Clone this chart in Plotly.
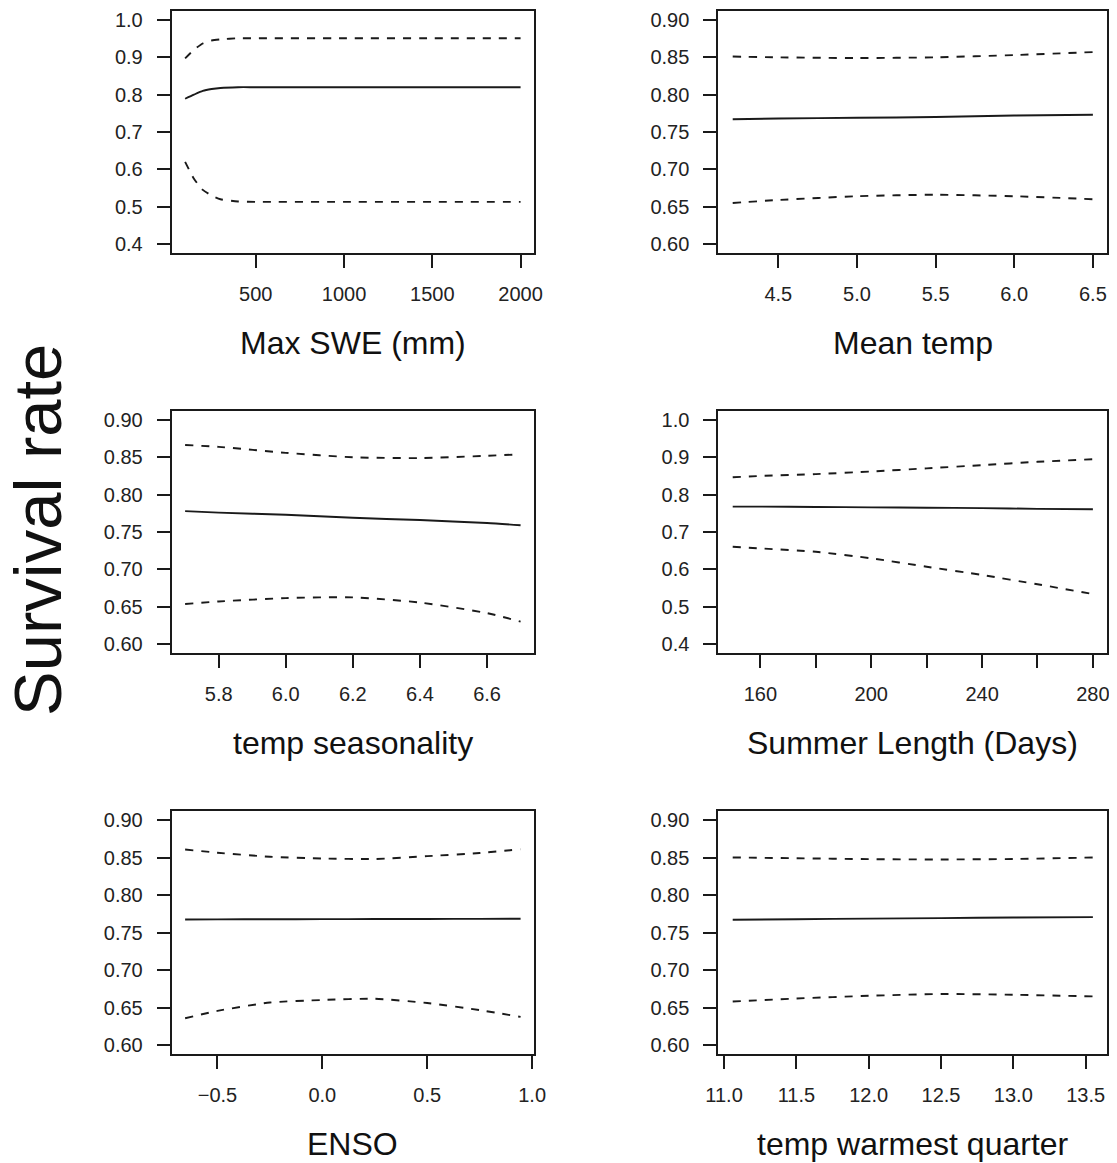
import plotly.graph_objects as go

# ---------------- data ----------------
swe_x = [100, 150, 200, 250, 300, 400, 500, 1000, 1500, 2000]
swe_fit = [0.789, 0.800, 0.810, 0.815, 0.818, 0.820, 0.820, 0.820, 0.820, 0.820]
swe_up = [0.897, 0.920, 0.937, 0.945, 0.948, 0.951, 0.951, 0.951, 0.951, 0.951]
swe_lo = [0.620, 0.575, 0.545, 0.530, 0.520, 0.514, 0.513, 0.513, 0.513, 0.513]

mt_x = [4.21, 4.5, 5.0, 5.5, 6.0, 6.5]
mt_fit = [0.767, 0.768, 0.769, 0.770, 0.772, 0.773]
mt_up = [0.851, 0.850, 0.849, 0.850, 0.853, 0.857]
mt_lo = [0.655, 0.659, 0.664, 0.666, 0.664, 0.660]

ts_x = [5.70, 5.8, 6.0, 6.2, 6.4, 6.6, 6.70]
ts_fit = [0.778, 0.776, 0.773, 0.769, 0.766, 0.762, 0.759]
ts_up = [0.8665, 0.864, 0.856, 0.850, 0.849, 0.852, 0.854]
ts_lo = [0.6536, 0.657, 0.6615, 0.6625, 0.6556, 0.6414, 0.630]

sl_x = [150, 160, 180, 200, 220, 240, 260, 280]
sl_fit = [0.768, 0.768, 0.767, 0.766, 0.765, 0.764, 0.762, 0.761]
sl_up = [0.8465, 0.850, 0.855, 0.862, 0.8705, 0.879, 0.888, 0.8947]
sl_lo = [0.6606, 0.656, 0.647, 0.6295, 0.607, 0.585, 0.560, 0.534]

en_x = [-0.654, -0.5, -0.25, 0.0, 0.25, 0.5, 0.75, 0.945]
en_fit = [0.7674, 0.7675, 0.7677, 0.7678, 0.7680, 0.7681, 0.7682, 0.7683]
en_up = [0.8607, 0.8564, 0.851, 0.8487, 0.848, 0.8518, 0.856, 0.861]
en_lo = [0.6357, 0.6455, 0.6566, 0.660, 0.6616, 0.656, 0.6465, 0.6375]

tw_x = [11.06, 11.5, 12.0, 12.5, 13.0, 13.55]
tw_fit = [0.767, 0.7677, 0.7685, 0.7692, 0.770, 0.7705]
tw_up = [0.8501, 0.849, 0.8478, 0.8474, 0.848, 0.850]
tw_lo = [0.658, 0.662, 0.6656, 0.668, 0.667, 0.6648]

x_titles = ["Max SWE (mm)", "Mean temp", "temp seasonality",
            "Summer Length (Days)", "ENSO", "temp warmest quarter"]
x_tickvals = [[500, 1000, 1500, 2000],
              [4.5, 5.0, 5.5, 6.0, 6.5],
              [5.8, 6.0, 6.2, 6.4, 6.6],
              [160, 180, 200, 220, 240, 260, 280],
              [-0.5, 0.0, 0.5, 1.0],
              [11.0, 11.5, 12.0, 12.5, 13.0, 13.5]]
x_ticktext = [["500", "1000", "1500", "2000"],
              ["4.5", "5.0", "5.5", "6.0", "6.5"],
              ["5.8", "6.0", "6.2", "6.4", "6.6"],
              ["160", "", "200", "", "240", "", "280"],
              ["\u22120.5", "0.0", "0.5", "1.0"],
              ["11.0", "11.5", "12.0", "12.5", "13.0", "13.5"]]
y_wide = [0.4, 0.5, 0.6, 0.7, 0.8, 0.9, 1.0]
y_wide_txt = ["0.4", "0.5", "0.6", "0.7", "0.8", "0.9", "1.0"]
y_narrow = [0.60, 0.65, 0.70, 0.75, 0.80, 0.85, 0.90]
y_narrow_txt = ["0.60", "0.65", "0.70", "0.75", "0.80", "0.85", "0.90"]
y_label = "Survival rate"

panels = [
    (swe_x, swe_fit, swe_up, swe_lo, y_wide, y_wide_txt),
    (mt_x, mt_fit, mt_up, mt_lo, y_narrow, y_narrow_txt),
    (ts_x, ts_fit, ts_up, ts_lo, y_narrow, y_narrow_txt),
    (sl_x, sl_fit, sl_up, sl_lo, y_wide, y_wide_txt),
    (en_x, en_fit, en_up, en_lo, y_narrow, y_narrow_txt),
    (tw_x, tw_fit, tw_up, tw_lo, y_narrow, y_narrow_txt),
]

# ---------------- layout geometry ----------------
OFF = 8  # default page body margin
W, H = 1117 - OFF, 1163 - OFF
col_px = [(171.7, 534.0), (718.3, 1107.3)]
row_px = [(11, 253), (411, 653), (811, 1054)]
FONT = "Liberation Sans, Arial, Helvetica, sans-serif"
LINE = "#1a1a1a"
LW = 1.9


def r_range(vals):
    lo, hi = min(vals), max(vals)
    d = (hi - lo) * 0.04
    return [lo - d, hi + d]


def px_x(v):
    return (v - OFF) / W


def px_y(v):
    return 1 - (v - OFF) / H


fig = go.Figure()
layout = dict(
    template="none",
    width=W, height=H, margin=dict(l=0, r=0, t=0, b=0, pad=0),
    paper_bgcolor="white", plot_bgcolor="white", showlegend=False,
    font=dict(family=FONT, color="#222"),
    annotations=[],
)

for i, (x, fit, up, lo, yt, ytt) in enumerate(panels):
    r, c = divmod(i, 2)
    n = "" if i == 0 else str(i + 1)
    xa, ya = "x" + n, "y" + n
    for series, dash in ((up, "8px,8px"), (fit, "solid"), (lo, "8px,8px")):
        fig.add_trace(go.Scatter(x=x, y=series, mode="lines", xaxis=xa, yaxis=ya,
                                 line=dict(color=LINE, width=LW, dash=dash, shape="spline", smoothing=0.6),
                                 hoverinfo="skip"))
    x0, x1 = col_px[c]
    y0, y1 = row_px[r]
    common = dict(showline=True, mirror=True, linecolor=LINE, linewidth=LW,
                  ticks="outside", ticklen=13, tickwidth=LW, tickcolor=LINE,
                  showgrid=False, zeroline=False, automargin=False,
                  tickfont=dict(family=FONT, size=20, color="#222"))
    layout["xaxis" + n] = dict(common, domain=[px_x(x0), px_x(x1)], anchor=ya,
                               range=r_range(x), tickmode="array",
                               tickvals=x_tickvals[i], ticktext=x_ticktext[i],
                               ticklabelstandoff=9)
    layout["yaxis" + n] = dict(common, domain=[px_y(y1), px_y(y0)], anchor=xa,
                               range=r_range(yt), tickmode="array",
                               tickvals=yt, ticktext=ytt, ticklabelstandoff=10)
    layout["annotations"].append(dict(
        text=x_titles[i], xref="paper", yref="paper", showarrow=False,
        x=px_x((x0 + x1) / 2), y=px_y(y1 + 90), xanchor="center", yanchor="middle",
        font=dict(family=FONT, size=32, color="#111")))

layout["annotations"].append(dict(
    text=y_label, xref="paper", yref="paper", showarrow=False, textangle=-90,
    x=px_x(38), y=px_y(530), xanchor="center", yanchor="middle",
    font=dict(family=FONT, size=67, color="#111")))

fig.update_layout(**layout)
fig.write_html("out.html")
